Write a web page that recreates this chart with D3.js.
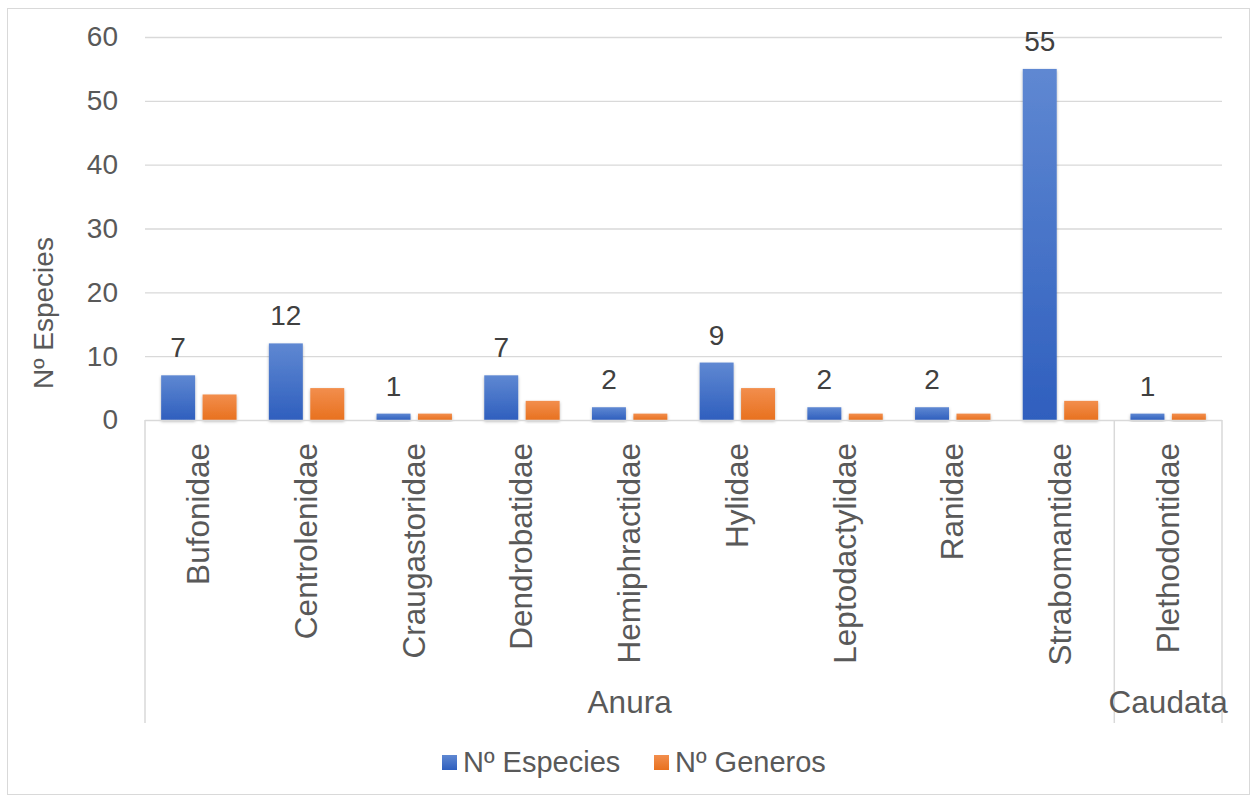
<!DOCTYPE html>
<html>
<head>
<meta charset="utf-8">
<script src="https://cdn.jsdelivr.net/npm/d3@7"></script>
<style>
  html, body { margin: 0; padding: 0; background: #fff; }
  svg { display: block; font-family: "Liberation Sans", Arial, sans-serif; }
</style>
</head>
<body>
<svg id="chart" width="1258" height="798"></svg>
<script>
// Families of amphibians, grouped by order
const families = ["Bufonidae", "Centrolenidae", "Craugastoridae", "Dendrobatidae", "Hemiphractidae",
                  "Hylidae", "Leptodactylidae", "Ranidae", "Strabomantidae", "Plethodontidae"];
const orders = [
  { name: "Anura", first: "Bufonidae", last: "Strabomantidae" },
  { name: "Caudata", first: "Plethodontidae", last: "Plethodontidae" }
];
const species = [7, 12, 1, 7, 2, 9, 2, 2, 55, 1];
const genera  = [4, 5, 1, 3, 1, 5, 1, 1, 3, 1];
const seriesNames = ["Nº Especies", "Nº Generos"];
const yTicks = [0, 10, 20, 30, 40, 50, 60];

const svg = d3.select("#chart");
const plot = { left: 145, right: 1222, top: 37, bottom: 420 };
const textColor = "#595959";
const fs = 28;

// Outer frame
svg.append("rect").attr("x", 7.5).attr("y", 8.5).attr("width", 1242).attr("height", 786)
  .attr("fill", "#fff").attr("stroke", "#d9d9d9").attr("stroke-width", 1);

// Gradients and shadow
const defs = svg.append("defs");
const grads = [
  { id: "gBlue", top: "#5f88d2", bottom: "#2f5fbe" },
  { id: "gOrange", top: "#f28e4d", bottom: "#e8711f" }
];
grads.forEach(g => {
  const lg = defs.append("linearGradient").attr("id", g.id).attr("x1", 0).attr("y1", 0).attr("x2", 0).attr("y2", 1);
  lg.append("stop").attr("offset", "0%").attr("stop-color", g.top);
  lg.append("stop").attr("offset", "100%").attr("stop-color", g.bottom);
});
const f = defs.append("filter").attr("id", "shadow").attr("x", "-20%").attr("y", "-20%").attr("width", "140%").attr("height", "140%");
f.append("feDropShadow").attr("dx", 0).attr("dy", 1.5).attr("stdDeviation", 1.5)
  .attr("flood-color", "#000").attr("flood-opacity", 0.3);

const y = d3.scaleLinear().domain([0, 60]).range([plot.bottom, plot.top]);
const x0 = d3.scaleBand().domain(families).range([plot.left, plot.right]).paddingInner(0.3).paddingOuter(0.15);
const x1 = d3.scaleBand().domain(seriesNames).range([0, x0.bandwidth()]).paddingInner(0.18);
const step = x0.step();

// Gridlines and value axis labels
const yAxis = d3.axisLeft(y).tickValues(yTicks).tickSize(-(plot.right - plot.left)).tickPadding(27);
const gy = svg.append("g").attr("transform", `translate(${plot.left},0)`).call(yAxis);
gy.select(".domain").remove();
gy.selectAll(".tick line").attr("stroke", "#d9d9d9").attr("stroke-width", 1.3);
gy.selectAll(".tick text").attr("fill", textColor).attr("font-size", fs)
  .attr("font-family", "Liberation Sans, Arial, sans-serif");
gy.selectAll(".tick").filter(d => d === 0).select("line").remove();

// Bars
const data = families.map((fam, i) => ({ fam, values: [species[i], genera[i]] }));
const groups = svg.append("g").selectAll("g").data(data).join("g")
  .attr("transform", d => `translate(${x0(d.fam)},0)`);
groups.selectAll("rect").data(d => d.values.map((v, j) => ({ v, s: seriesNames[j], j })))
  .join("rect")
  .attr("x", d => x1(d.s))
  .attr("y", d => y(d.v))
  .attr("width", x1.bandwidth())
  .attr("height", d => y(0) - y(d.v))
  .attr("fill", d => d.j === 0 ? "url(#gBlue)" : "url(#gOrange)")
  .attr("filter", "url(#shadow)");

// Value labels on species bars
groups.append("text")
  .attr("x", x1(seriesNames[0]) + x1.bandwidth() / 2)
  .attr("y", d => y(d.values[0]) - 18)
  .attr("text-anchor", "middle")
  .attr("font-size", fs)
  .attr("fill", "#404040")
  .text(d => d.values[0]);

// Category axis line and group separators
const axisColor = "#d9d9d9";
svg.append("line").attr("x1", plot.left).attr("x2", plot.right).attr("y1", plot.bottom + 0.5).attr("y2", plot.bottom + 0.5)
  .attr("stroke", axisColor).attr("stroke-width", 1.5);
const sepBottom = 723;
const separators = [plot.left].concat(orders.map(o => x0(o.last) - x0.paddingOuter() * step + step));
separators.forEach(sx => {
  svg.append("line").attr("x1", sx).attr("x2", sx).attr("y1", plot.bottom).attr("y2", sepBottom)
    .attr("stroke", axisColor).attr("stroke-width", 1.5);
});

// Family labels (rotated)
svg.append("g").selectAll("text").data(families).join("text")
  .attr("transform", d => `translate(${x0(d) + x0.bandwidth() / 2 + 10.5},443) rotate(-90)`)
  .attr("text-anchor", "end")
  .attr("font-size", 31.5)
  .attr("fill", textColor)
  .text(d => d);

// Order labels
svg.append("g").selectAll("text").data(orders).join("text")
  .attr("x", d => {
    const a = x0(d.first) - x0.paddingOuter() * step;
    const b = x0(d.last) - x0.paddingOuter() * step + step;
    return (a + b) / 2;
  })
  .attr("y", 713)
  .attr("text-anchor", "middle")
  .attr("font-size", 31.5)
  .attr("fill", textColor)
  .text(d => d.name);

// Y axis title
svg.append("text")
  .attr("transform", "translate(53,313) rotate(-90)")
  .attr("text-anchor", "middle")
  .attr("font-size", fs)
  .attr("fill", textColor)
  .text("Nº Especies");

// Legend
const legend = svg.append("g");
const legendItems = [
  { name: seriesNames[0], fill: "url(#gBlue)", x: 442 },
  { name: seriesNames[1], fill: "url(#gOrange)", x: 654 }
];
legendItems.forEach(it => {
  legend.append("rect").attr("x", it.x).attr("y", 755).attr("width", 15).attr("height", 15).attr("fill", it.fill);
  legend.append("text").attr("x", it.x + 21).attr("y", 772).attr("font-size", 29).attr("fill", textColor).text(it.name);
});
</script>
</body>
</html>
